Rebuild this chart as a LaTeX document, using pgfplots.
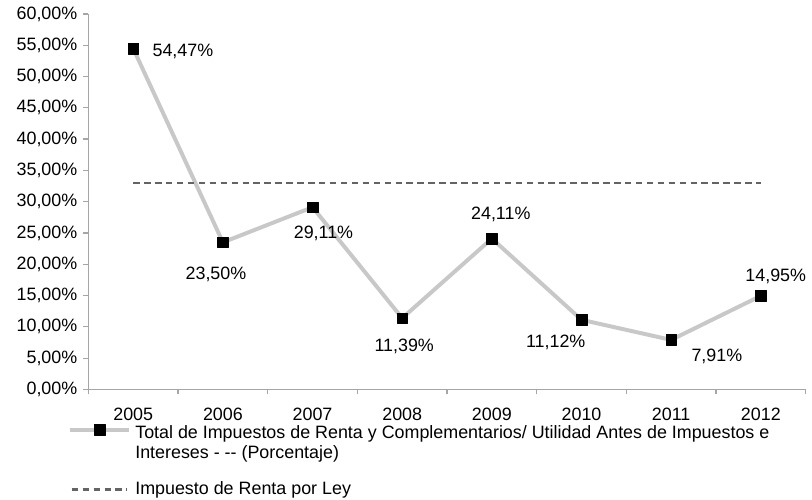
\documentclass[border=0pt]{standalone}
\usepackage{pgfplots}
\pgfplotsset{compat=1.18}
\usepackage{fontspec}
\setmainfont{Liberation Sans}

\definecolor{serie}{HTML}{C8C8C8}
\definecolor{ley}{HTML}{646464}
\definecolor{eje}{HTML}{A6A6A6}

\newcommand{\letra}{\fontsize{18}{20.5}\selectfont}

\pgfplotsset{
  leyenda marca/.style={legend image code/.code={%
    \draw[yshift=14pt,mark repeat=2,mark phase=2,##1] plot coordinates {(0pt,0pt) (30pt,0pt) (60pt,0pt)};}},
  leyenda linea/.style={legend image code/.code={%
    \draw[##1] (2pt,0pt) -- (58pt,0pt);}},
}

\begin{document}
\letra
\begin{tikzpicture}[font=\letra]
\begin{axis}[
  scale only axis, width=722pt, height=378pt,
  xmin=-0.5, xmax=7.5, ymin=0, ymax=60,
  axis x line*=bottom, axis y line*=left,
  axis line style={-, eje, line width=1.2pt},
  xtick={0,...,7},
  xticklabels={2005,2006,2007,2008,2009,2010,2011,2012},
  minor xtick={-0.5,0.5,...,7.5},
  major x tick style={draw=none},
  minor x tick style={eje, line width=1.2pt},
  minor tick length=5pt,
  ytick={0,5,...,60},
  y tick style={eje, line width=1.2pt},
  major tick length=5pt,
  tick align=outside,
  tick label style={font=\letra},
  xticklabel style={yshift=-8pt},
  /pgf/number format/assume math mode=true,
  yticklabel={\pgfmathprintnumber[fixed,fixed zerofill,precision=2,use comma]{\tick}\%},
  legend style={at={(0,0)}, anchor=north west, xshift=-24pt, yshift=-33pt,
    draw=none, fill=none, cells={align=left}, row sep=20pt, column sep=4pt,
    font=\letra, nodes={inner sep=0pt, outer xsep=3pt}},
  legend cell align=left,
  clip=false,
]
% ratio of income tax to EBIT, per year
\addplot[serie, line width=4pt, line join=round, mark=square*, mark size=5.3pt,
  mark options={draw=black, fill=black, line width=0.4pt}, leyenda marca]
  coordinates {(0,54.47) (1,23.50) (2,29.11) (3,11.39) (4,24.11) (5,11.12) (6,7.91) (7,14.95)};
\addlegendentry{Total de Impuestos de Renta y Complementarios/ Utilidad Antes de Impuestos e\\Intereses - {-}{-} (Porcentaje)}
% statutory rate
\addplot[ley, line width=2.6pt, dash pattern=on 6.5pt off 4.5pt, leyenda linea] coordinates {(0,33) (7,33)};
\addlegendentry{Impuesto de Renta por Ley}

\node at (axis cs:0,54.47) [xshift=50pt, yshift=-3pt] {54,47\%};
\node at (axis cs:1,23.50) [xshift=-7pt, yshift=-32pt] {23,50\%};
\node at (axis cs:2,29.11) [xshift=11pt, yshift=-26pt] {29,11\%};
\node at (axis cs:3,11.39) [xshift=2pt, yshift=-28pt] {11,39\%};
\node at (axis cs:4,24.11) [xshift=9pt, yshift=24pt] {24,11\%};
\node at (axis cs:5,11.12) [xshift=-26pt, yshift=-23pt] {11,12\%};
\node at (axis cs:6,7.91) [xshift=46pt, yshift=-17pt] {7,91\%};
\node at (axis cs:7,14.95) [xshift=15pt, yshift=20pt] {14,95\%};
\end{axis}
\path ([shift={(-89pt,-106pt)}]current axis.south west) rectangle ([shift={(723pt,392pt)}]current axis.south west);
\end{tikzpicture}
\end{document}
